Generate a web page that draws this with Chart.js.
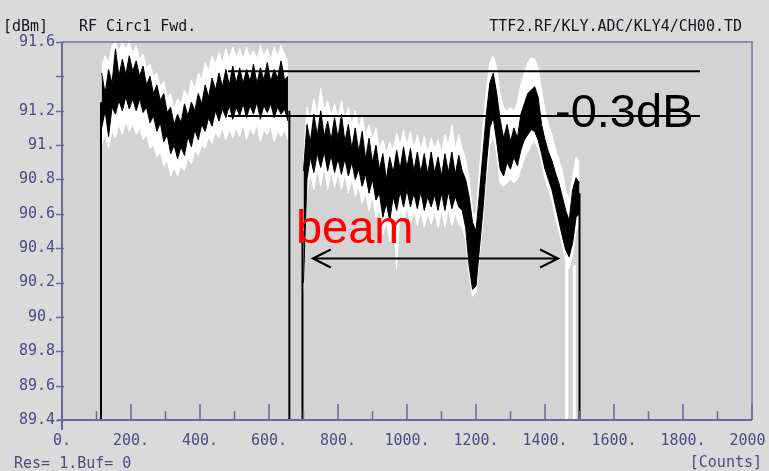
<!DOCTYPE html>
<html>
<head>
  <title>RF Circ1 Fwd.</title>
  <script src="https://cdn.jsdelivr.net/npm/chart.js"></script>
  <style>
    body { margin: 0; background: #dadada; }
    #wrap { width: 769px; height: 471px; position: relative; }
  </style>
</head>
<body>
  <div id="wrap"><canvas id="rfChart"></canvas></div>

  <script>
    // axis ticks
    const yTickValues = [89.4, 89.6, 89.8, 90.0, 90.2, 90.4, 90.6, 90.8, 91.0, 91.2, 91.4, 91.6];
    const yTickText = ['89.4', '89.6', '89.8', '90.', '90.2', '90.4', '90.6', '90.8', '91.', '91.2', '', '91.6'];
    const xTickValues = [0, 200, 400, 600, 800, 1000, 1200, 1400, 1600, 1800, 2000];
    const xTickText = ['0.', '200.', '400.', '600.', '800.', '1000.', '1200.', '1400.', '1600.', '1800.', '2000.'];
    const xMinorTicks = [100, 300, 500, 700, 900, 1100, 1300, 1500, 1700, 1900];

    // first pulse (counts), black trace envelope and white trace envelope
    const seg1X = [115, 125, 135, 145, 155, 165, 175, 185, 195, 205,
                   215, 225, 235, 245, 255, 265, 275, 285, 295, 305,
                   315, 325, 335, 345, 355, 365, 375, 385, 395, 405,
                   415, 425, 435, 445, 455, 465, 475, 485, 495, 505,
                   515, 525, 535, 545, 555, 565, 575, 585, 595, 605,
                   615, 625, 635, 645, 655];
    const blackTop1 = [91.42, 91.30, 91.44, 91.36, 91.56, 91.40, 91.50, 91.41, 91.52, 91.43,
                       91.49, 91.40, 91.46, 91.35, 91.40, 91.30, 91.35, 91.26, 91.30, 91.19,
                       91.22, 91.12, 91.18, 91.13, 91.24, 91.17, 91.25, 91.20, 91.30, 91.24,
                       91.35, 91.28, 91.39, 91.32, 91.42, 91.34, 91.44, 91.35, 91.46, 91.36,
                       91.45, 91.36, 91.44, 91.37, 91.47, 91.36, 91.45, 91.38, 91.48, 91.37,
                       91.44, 91.39, 91.49, 91.38, 91.40];
    const blackLow1 = [91.10, 91.20, 91.05, 91.22, 91.18, 91.26, 91.20, 91.28, 91.21, 91.27,
                       91.20, 91.27, 91.19, 91.22, 91.13, 91.17, 91.08, 91.13, 91.02, 91.06,
                       90.95, 91.00, 90.92, 90.99, 90.94, 91.05, 90.99, 91.09, 91.03, 91.12,
                       91.08, 91.16, 91.11, 91.20, 91.14, 91.21, 91.16, 91.23, 91.15, 91.22,
                       91.17, 91.24, 91.16, 91.23, 91.18, 91.25, 91.15, 91.23, 91.19, 91.24,
                       91.16, 91.22, 91.18, 91.21, 91.14];
    const whiteTop1 = [91.46, 91.52, 91.48, 91.58, 91.60, 91.55, 91.60, 91.56, 91.60, 91.53,
                       91.58, 91.50, 91.53, 91.45, 91.47, 91.40, 91.42, 91.34, 91.37, 91.28,
                       91.30, 91.21, 91.27, 91.24, 91.32, 91.28, 91.38, 91.33, 91.42, 91.38,
                       91.48, 91.43, 91.52, 91.47, 91.54, 91.48, 91.56, 91.50, 91.57, 91.51,
                       91.56, 91.50, 91.57, 91.51, 91.55, 91.50, 91.58, 91.52, 91.56, 91.50,
                       91.57, 91.52, 91.58, 91.53, 91.48];
    const whiteLow1 = [91.00, 91.06, 90.98, 91.08, 91.04, 91.12, 91.06, 91.14, 91.08, 91.12,
                       91.06, 91.10, 91.03, 91.06, 90.98, 91.00, 90.93, 90.96, 90.88, 90.91,
                       90.82, 90.87, 90.82, 90.88, 90.85, 90.93, 90.89, 90.97, 90.94, 91.00,
                       90.98, 91.05, 91.01, 91.08, 91.04, 91.10, 91.03, 91.09, 91.04, 91.10,
                       91.05, 91.12, 91.03, 91.10, 91.06, 91.12, 91.02, 91.09, 91.06, 91.11,
                       91.02, 91.08, 91.05, 91.09, 91.03];

    // second pulse (with beam)
    const seg2X = [700, 710, 720, 730, 740, 750, 760, 770, 780, 790,
                   800, 810, 820, 830, 840, 850, 860, 870, 880, 890,
                   900, 910, 920, 930, 940, 950, 960, 970, 980, 990,
                   1000, 1010, 1020, 1030, 1040, 1050, 1060, 1070, 1080, 1090,
                   1100, 1110, 1120, 1130, 1140, 1150, 1160, 1170, 1180, 1190,
                   1200, 1210, 1220, 1230, 1240, 1250, 1260, 1270, 1280, 1290,
                   1300, 1310, 1320, 1330, 1340, 1350, 1360, 1370, 1380, 1390,
                   1400, 1410, 1420, 1430, 1440, 1450, 1460, 1470, 1480, 1490,
                   1500];
    const blackTop2 = [90.85, 91.12, 91.02, 91.18, 91.06, 91.20, 91.05, 91.14, 91.03, 91.16,
                       91.04, 91.18, 91.02, 91.12, 90.98, 91.10, 90.96, 91.08, 90.92, 91.04,
                       90.90, 91.00, 90.86, 90.95, 90.80, 90.93, 90.84, 90.97, 90.86, 90.99,
                       90.87, 90.98, 90.85, 90.96, 90.84, 90.95, 90.83, 90.96, 90.84, 90.93,
                       90.82, 90.95, 90.84, 90.96, 90.83, 90.94, 90.85, 90.80, 90.70, 90.55,
                       90.50, 90.72, 90.95, 91.18, 91.36, 91.42, 91.30, 91.15, 91.04, 91.12,
                       91.02, 91.10, 91.04, 91.18, 91.24, 91.30, 91.32, 91.34, 91.28, 91.12,
                       91.03, 90.96, 90.91, 90.84, 90.78, 90.70, 90.62, 90.56, 90.74, 90.81,
                       90.78];
    const blackLow2 = [90.20, 90.80, 90.93, 90.84, 90.95, 90.87, 90.96, 90.85, 90.94, 90.84,
                       90.92, 90.83, 90.92, 90.82, 90.90, 90.80, 90.86, 90.76, 90.83, 90.72,
                       90.80, 90.68, 90.72, 90.58, 90.66, 90.56, 90.70, 90.62, 90.73, 90.64,
                       90.74, 90.64, 90.72, 90.63, 90.73, 90.62, 90.70, 90.64, 90.71, 90.62,
                       90.72, 90.62, 90.73, 90.63, 90.70, 90.64, 90.62, 90.52, 90.30, 90.16,
                       90.18, 90.40, 90.62, 90.88, 91.10, 91.16, 91.02, 90.86, 90.82, 90.90,
                       90.86, 90.93, 90.88, 90.97, 91.03, 91.06, 91.09, 91.08, 91.03, 90.95,
                       90.86, 90.80, 90.74, 90.65, 90.56, 90.47, 90.39, 90.35, 90.43, 90.58,
                       90.60];
    const whiteTop2 = [90.90, 91.22, 91.15, 91.27, 91.18, 91.33, 91.20, 91.26, 91.17, 91.24,
                       91.16, 91.26, 91.15, 91.22, 91.12, 91.20, 91.10, 91.17, 91.06, 91.12,
                       91.04, 91.10, 90.98, 91.03, 90.95, 91.02, 90.97, 91.07, 91.00, 91.09,
                       91.00, 91.08, 90.98, 91.06, 90.97, 91.05, 90.96, 91.04, 90.98, 91.03,
                       90.96, 91.06, 91.00, 91.12, 90.98, 91.06, 90.98, 90.92, 90.80, 90.62,
                       90.58, 90.85, 91.10, 91.32, 91.48, 91.52, 91.45, 91.30, 91.22, 91.20,
                       91.22, 91.20, 91.25, 91.35, 91.42, 91.48, 91.51, 91.50, 91.45, 91.32,
                       91.20, 91.12, 91.06, 90.98, 90.92, 90.85, 90.74, 90.68, 90.82, 90.93,
                       90.90];
    const whiteLow2 = [90.15, 90.72, 90.84, 90.74, 90.86, 90.76, 90.88, 90.74, 90.85, 90.75,
                       90.84, 90.74, 90.83, 90.72, 90.80, 90.70, 90.76, 90.66, 90.72, 90.62,
                       90.70, 90.58, 90.62, 90.48, 90.56, 90.44, 90.60, 90.28, 90.62, 90.55,
                       90.64, 90.54, 90.62, 90.53, 90.62, 90.52, 90.60, 90.54, 90.61, 90.52,
                       90.62, 90.52, 90.63, 90.53, 90.60, 90.54, 90.52, 90.45, 90.25, 90.12,
                       90.14, 90.35, 90.55, 90.80, 91.00, 91.05, 90.95, 90.78, 90.76, 90.78,
                       90.80, 90.78, 90.80, 90.86, 90.92, 90.96, 91.00, 91.02, 90.98, 90.90,
                       90.80, 90.74, 90.68, 90.58, 90.50, 90.42, 90.32, 90.28, 90.36, 90.50,
                       90.55];

    // pulse edges (vertical lines down to the floor)
    const edgeX = [113, 659, 697, 1500];
    const edgeTop = [91.25, 91.20, 90.50, 90.72];
    const whiteDropX = [1463, 1485];
    const whiteDropTop = [90.32, 90.30];
    const floorValue = 89.4;

    // annotations
    const refLineX = [481, 1849];
    const refLineY = [91.43, 91.17];
    const arrowX = [727, 1438];
    const arrowY = 90.34;
    const dbLabel = { text: '-0.3dB', x: 1429, y: 91.105 };
    const beamLabel = { text: 'beam', x: 678, y: 90.43 };

    const axisColor = '#6a6a9c';
    const tickTextColor = '#4c4c84';
    const monoFont = "'DejaVu Sans Mono', 'Liberation Mono', monospace";

    function pts(xs, ys) {
      return xs.map((x, i) => ({ x: x, y: ys[i] }));
    }

    function verticals(xs, tops) {
      const out = [];
      xs.forEach((x, i) => {
        out.push({ x: x, y: floorValue }, { x: x, y: tops[i] }, { x: x, y: null });
      });
      return out;
    }

    function band(label, data, color, fill, order) {
      return {
        label: label,
        data: data,
        borderColor: color,
        backgroundColor: color,
        borderWidth: 1,
        pointRadius: 0,
        fill: fill,
        order: order,
        tension: 0,
      };
    }

    const datasets = [
      band('white top 1', pts(seg1X, whiteTop1), '#ffffff', '+1', 4),
      band('white low 1', pts(seg1X, whiteLow1), '#ffffff', false, 4),
      band('white top 2', pts(seg2X, whiteTop2), '#ffffff', '+1', 4),
      band('white low 2', pts(seg2X, whiteLow2), '#ffffff', false, 4),
      band('black top 1', pts(seg1X, blackTop1), '#000000', '+1', 3),
      band('black low 1', pts(seg1X, blackLow1), '#000000', false, 3),
      band('black top 2', pts(seg2X, blackTop2), '#000000', '+1', 3),
      band('black low 2', pts(seg2X, blackLow2), '#000000', false, 3),
      {
        label: 'white drops',
        data: verticals(whiteDropX, whiteDropTop),
        borderColor: '#ffffff', borderWidth: 3, pointRadius: 0, fill: false, spanGaps: false, order: 2,
      },
      {
        label: 'edges',
        data: verticals(edgeX, edgeTop),
        borderColor: '#000000', borderWidth: 2, pointRadius: 0, fill: false, spanGaps: false, order: 1,
      },
      {
        label: 'ref high',
        data: pts(refLineX, [refLineY[0], refLineY[0]]),
        borderColor: '#000000', borderWidth: 2, pointRadius: 0, fill: false, order: 0,
      },
      {
        label: 'ref low',
        data: pts(refLineX, [refLineY[1], refLineY[1]]),
        borderColor: '#000000', borderWidth: 2, pointRadius: 0, fill: false, order: 0,
      },
    ];

    // plot background, frame, inner ticks, arrow and texts
    const decor = {
      id: 'decor',
      beforeDraw(chart) {
        const { ctx, chartArea: a } = chart;
        ctx.save();
        ctx.fillStyle = '#d3d3d3';
        ctx.fillRect(a.left, a.top, a.right - a.left, a.bottom - a.top);
        ctx.restore();
      },
      afterDatasetsDraw(chart) {
        const { ctx, scales } = chart;
        const x = scales.x, y = scales.y;
        ctx.save();
        // beam arrow
        const x1 = x.getPixelForValue(arrowX[0]);
        const x2 = x.getPixelForValue(arrowX[1]);
        const ya = y.getPixelForValue(arrowY);
        ctx.strokeStyle = '#000';
        ctx.lineWidth = 2;
        ctx.beginPath();
        ctx.moveTo(x1, ya); ctx.lineTo(x2, ya);
        ctx.moveTo(x1 + 18, ya - 9); ctx.lineTo(x1, ya); ctx.lineTo(x1 + 18, ya + 9);
        ctx.moveTo(x2 - 18, ya - 9); ctx.lineTo(x2, ya); ctx.lineTo(x2 - 18, ya + 9);
        ctx.stroke();
        // labels
        ctx.font = "47px 'Liberation Sans', Arial, sans-serif";
        ctx.textBaseline = 'alphabetic';
        ctx.textAlign = 'left';
        ctx.fillStyle = '#ff0000';
        ctx.fillText(beamLabel.text, x.getPixelForValue(beamLabel.x), y.getPixelForValue(beamLabel.y));
        ctx.fillStyle = '#000000';
        ctx.fillText(dbLabel.text, x.getPixelForValue(dbLabel.x), y.getPixelForValue(dbLabel.y));
        ctx.restore();
      },
      afterDraw(chart) {
        const { ctx, chartArea: a, scales } = chart;
        ctx.save();
        // frame
        ctx.strokeStyle = '#8c8cac';
        ctx.lineWidth = 2;
        ctx.beginPath();
        ctx.moveTo(a.left, a.top); ctx.lineTo(a.right, a.top); ctx.lineTo(a.right, a.bottom);
        ctx.stroke();
        ctx.strokeStyle = axisColor;
        ctx.beginPath();
        ctx.moveTo(a.left, a.top); ctx.lineTo(a.left, a.bottom + 10);
        ctx.moveTo(a.left - 4, a.bottom); ctx.lineTo(a.right, a.bottom);
        ctx.stroke();
        // ticks
        ctx.lineWidth = 1.5;
        ctx.beginPath();
        yTickValues.forEach(v => {
          const py = Math.round(scales.y.getPixelForValue(v)) + 0.5;
          ctx.moveTo(a.left - 6, py); ctx.lineTo(a.left + 2, py);
        });
        xTickValues.forEach(v => {
          const px = scales.x.getPixelForValue(v);
          ctx.moveTo(px, a.bottom); ctx.lineTo(px, a.bottom - 16);
        });
        xMinorTicks.forEach(v => {
          const px = scales.x.getPixelForValue(v);
          ctx.moveTo(px, a.bottom); ctx.lineTo(px, a.bottom - 9);
        });
        ctx.stroke();
        // header and footer texts
        ctx.font = '15px ' + monoFont;
        ctx.textBaseline = 'alphabetic';
        ctx.fillStyle = '#14141c';
        ctx.textAlign = 'left';
        ctx.fillText('[dBm]', 3, 31);
        ctx.fillText('RF Circ1 Fwd.', 79, 31);
        ctx.textAlign = 'right';
        ctx.fillText('TTF2.RF/KLY.ADC/KLY4/CH00.TD', 742, 31);
        ctx.fillStyle = tickTextColor;
        ctx.fillText('[Counts]', 762, 467);
        ctx.textAlign = 'left';
        ctx.fillText('Res= 1.Buf= 0', 14, 468);
        ctx.restore();
      },
    };

    const ctx = document.getElementById('rfChart').getContext('2d');
    const rfChart = new Chart(ctx, {
      type: 'line',
      data: { datasets: datasets },
      options: {
        responsive: true,
        maintainAspectRatio: false,
        animation: false,
        devicePixelRatio: 1,
        layout: { padding: { top: 42, right: 17, left: 0, bottom: 0 } },
        plugins: {
          legend: { display: false },
          tooltip: { enabled: false },
        },
        scales: {
          x: {
            type: 'linear',
            min: 0,
            max: 2000,
            grid: { display: false, drawTicks: false },
            border: { display: false },
            afterBuildTicks: s => { s.ticks = xTickValues.map(v => ({ value: v })); },
            afterFit: s => { s.height = 51; s.paddingLeft = 0; s.paddingRight = 0; },
            ticks: {
              autoSkip: false,
              maxRotation: 0,
              padding: 12,
              color: tickTextColor,
              font: { family: monoFont, size: 15 },
              callback: (v, i) => xTickText[i],
            },
          },
          y: {
            type: 'linear',
            min: 89.4,
            max: 91.6,
            grid: { display: false, drawTicks: false },
            border: { display: false },
            afterBuildTicks: s => { s.ticks = yTickValues.map(v => ({ value: v })); },
            afterFit: s => { s.width = 62; s.paddingTop = 0; s.paddingBottom = 0; },
            ticks: {
              autoSkip: false,
              padding: 7,
              color: tickTextColor,
              font: { family: monoFont, size: 15 },
              callback: (v, i) => yTickText[i],
            },
          },
        },
      },
      plugins: [decor],
    });
  </script>
</body>
</html>
